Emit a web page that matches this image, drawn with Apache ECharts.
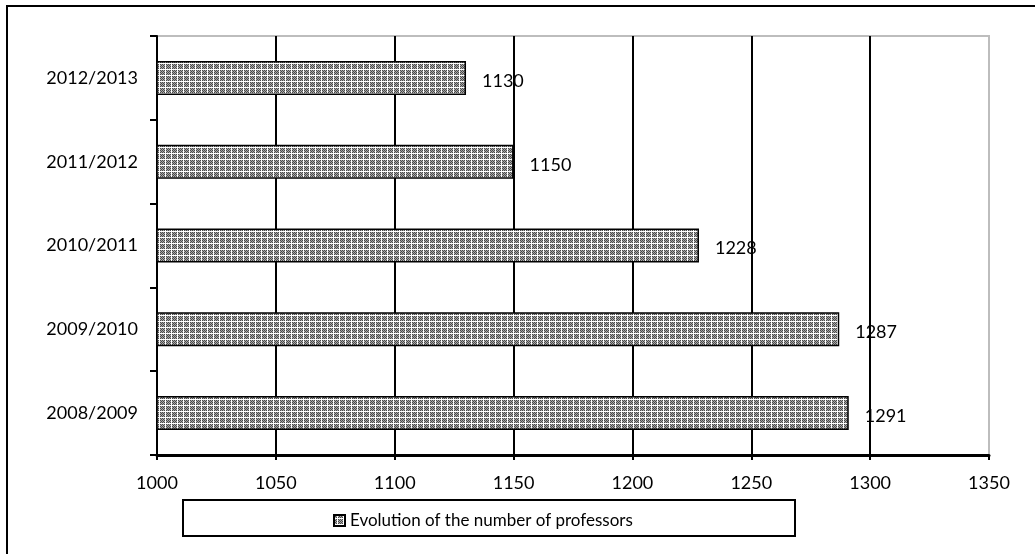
<!DOCTYPE html>
<html>
<head>
<meta charset="utf-8">
<script src="https://cdn.jsdelivr.net/npm/echarts@6/dist/echarts.min.js"></script>
<style>
  html, body { margin: 0; padding: 0; background: #fff; }
  #chart { width: 1035px; height: 554px; }
</style>
</head>
<body>
<div id="chart"></div>
<script>
// School years and number of professors in each
const years = ['2008/2009', '2009/2010', '2010/2011', '2011/2012', '2012/2013'];
const professors = [1291, 1287, 1228, 1150, 1130];
const seriesName = 'Evolution of the number of professors';

// Small hatch tile used to fill the bars
function hatchTile() {
  const c = document.createElement('canvas');
  c.width = 6; c.height = 6;
  const g = c.getContext('2d');
  g.fillStyle = '#ffffff';
  g.fillRect(0, 0, 6, 6);
  for (let y = 0; y < 6; y++) {
    for (let x = 0; x < 6; x++) {
      if (x === 3 || y === 3) continue;
      g.fillStyle = (x + y) % 2 === 0 ? '#4a4a4a' : '#a8a8a8';
      g.fillRect(x, y, 1, 1);
    }
  }
  return c;
}
const pattern = { image: hatchTile(), repeat: 'repeat' };

const font = 'Lato, "Open Sans", sans-serif';
const chart = echarts.init(document.getElementById('chart'));
chart.setOption({
  animation: false,
  backgroundColor: '#fff',
  grid: {
    left: 157, right: 46, top: 36, bottom: 99,
    show: true, borderColor: '#bdbdbd', borderWidth: 2, backgroundColor: 'transparent'
  },
  legend: {
    left: 328, top: 507,
    itemWidth: 11, itemHeight: 11, itemGap: 6,
    icon: 'rect',
    textStyle: { fontFamily: font, fontSize: 17, color: '#000' },
    data: [seriesName]
  },
  xAxis: {
    type: 'value', min: 1000, max: 1350, interval: 50,
    axisLine: { show: true, lineStyle: { color: '#000', width: 3 } },
    axisTick: { show: true, length: 5, lineStyle: { color: '#000', width: 2 } },
    axisLabel: { fontFamily: font, fontSize: 18, color: '#000', margin: 19,
      formatter: v => String(v) },
    splitLine: {
      show: true,
      lineStyle: { color: ['#000', '#000', '#000', '#000', '#000', '#000', '#000', '#bdbdbd'], width: 2 }
    }
  },
  yAxis: {
    type: 'category', data: years,
    axisLine: { show: true, lineStyle: { color: '#000', width: 2 } },
    axisTick: { show: true, length: 7, alignWithLabel: false, lineStyle: { color: '#000', width: 2 } },
    axisLabel: { fontFamily: font, fontSize: 18, color: '#000', margin: 19 }
  },
  series: [{
    name: seriesName,
    type: 'bar',
    data: professors,
    barWidth: 34,
    itemStyle: { color: pattern, borderColor: '#000', borderWidth: 1.5 },
    label: {
      show: true, position: 'right', distance: 16, offset: [0, 3],
      fontFamily: font, fontSize: 18, color: '#000'
    }
  }],
  graphic: [
    { type: 'rect', shape: { x: 7, y: 6, width: 1200, height: 700 },
      style: { fill: 'none', stroke: '#000', lineWidth: 2 }, silent: true },
    { type: 'rect', shape: { x: 183, y: 500, width: 612, height: 36 },
      style: { fill: 'none', stroke: '#000', lineWidth: 2 }, silent: true, z: -1 }
  ]
});
</script>
</body>
</html>
